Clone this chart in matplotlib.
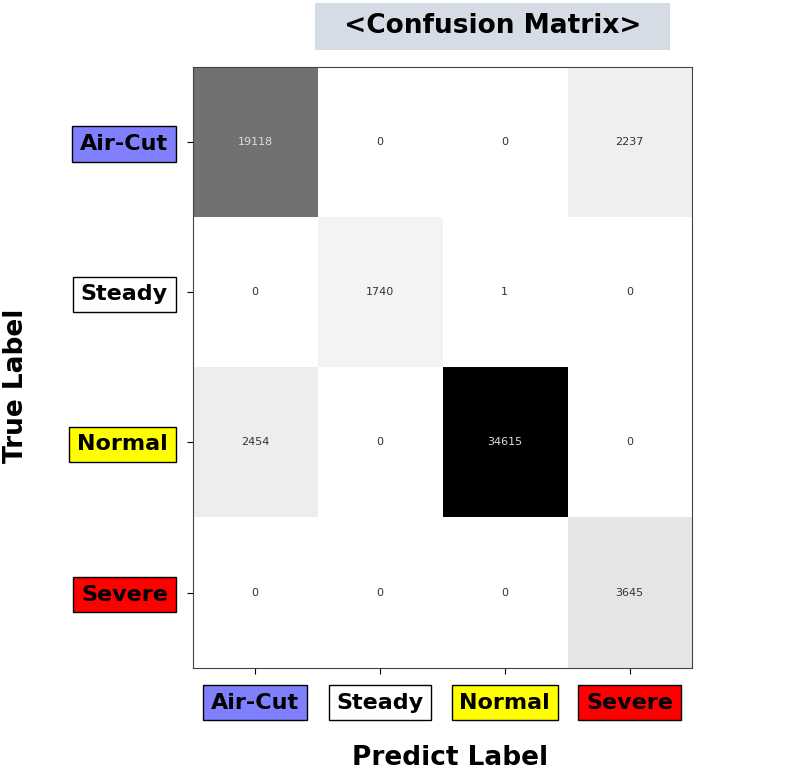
import matplotlib
matplotlib.use("Agg")
import matplotlib.pyplot as plt
import numpy as np

classes = ["Air-Cut", "Steady", "Normal", "Severe"]
class_colors = ["#8080ff", "#ffffff", "#ffff00", "#ff0000"]
row_aircut = [19118, 0, 0, 2237]
row_steady = [0, 1740, 1, 0]
row_normal = [2454, 0, 34615, 0]
row_severe = [0, 0, 0, 3645]
cm = np.array([row_aircut, row_steady, row_normal, row_severe])
thr = cm.max() / 2

fig = plt.figure(figsize=(8, 7.71), dpi=100)
ax = fig.add_axes([0.241, 0.134, 0.624, 0.779])
ax.imshow(cm, cmap="gray_r", aspect="auto", vmin=0, vmax=cm.max())
for i in range(4):
    for j in range(4):
        v = cm[i, j]
        ax.text(j, i, str(v), ha="center", va="center", fontsize=8,
                color="#dddddd" if v > thr * 0.9 else "#333333")
ax.set_xticks(range(4))
ax.set_yticks(range(4))
ax.tick_params(length=4)
ax.set_xticklabels(classes, fontsize=16, fontweight="bold")
ax.set_yticklabels(classes, fontsize=16, fontweight="bold")
ax.tick_params(axis="x", pad=14)
ax.tick_params(axis="y", pad=14)
for lbl, col in zip(ax.get_xticklabels(), class_colors):
    lbl.set_bbox(dict(boxstyle="square,pad=0.35", fc=col, ec="black", lw=1))
for lbl, col in zip(ax.get_yticklabels(), class_colors):
    lbl.set_bbox(dict(boxstyle="square,pad=0.35", fc=col, ec="black", lw=1))
for s in ax.spines.values():
    s.set_color("#444444")

fig.text(0.02, 0.5, "True Label", rotation=90, ha="center", va="center",
         fontsize=19, fontweight="bold")
fig.text(0.563, 0.017, "Predict Label", ha="center", va="center",
         fontsize=19, fontweight="bold")
fig.text(0.616, 0.966, "  <Confusion Matrix>  ", ha="center", va="center",
         fontsize=19, fontweight="bold",
         bbox=dict(boxstyle="square,pad=0.4", fc="#d6dce5", ec="none"))
fig.savefig("out.png", dpi=100, facecolor="white")
